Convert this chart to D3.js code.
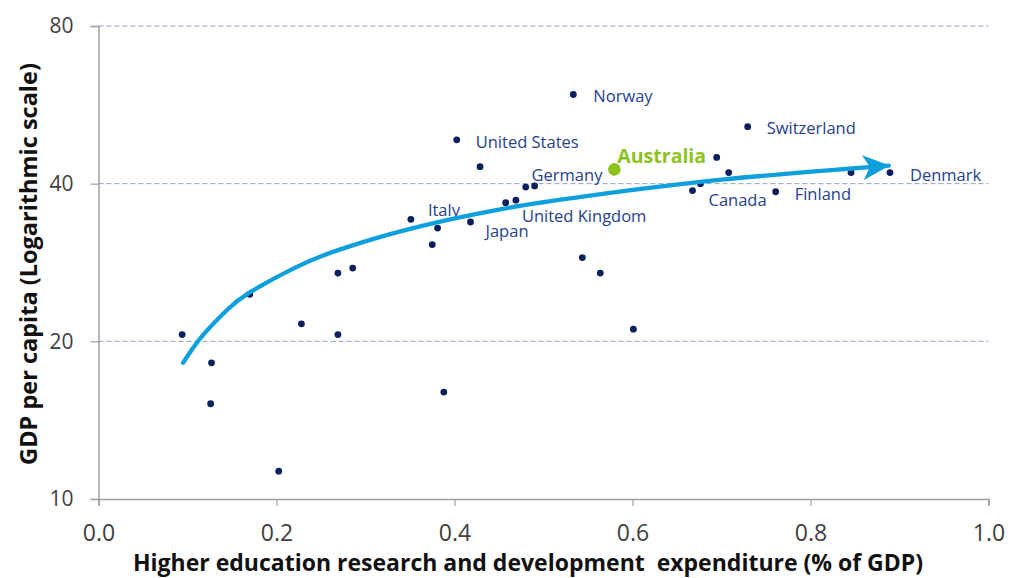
<!DOCTYPE html>
<html>
<head>
<meta charset="utf-8">
<script src="https://cdn.jsdelivr.net/npm/d3@7/dist/d3.min.js"></script>
<style>
  html, body { margin: 0; padding: 0; background: #fff; }
  svg { display: block; }
  text { font-family: "Open Sans", sans-serif; }
</style>
</head>
<body>
<script>
// ---------- data ----------
const spend = [0.094, 0.127, 0.126, 0.170, 0.2025, 0.228, 0.269, 0.269, 0.2856, 0.351, 0.381, 0.375, 0.388,
  0.4025, 0.418, 0.4287, 0.4575, 0.469, 0.480, 0.490, 0.5335, 0.5436, 0.5638, 0.5796, 0.601,
  0.6674, 0.6764, 0.6946, 0.7081, 0.7294, 0.7609, 0.8455, 0.8893];
const gdp = [20.6, 18.2, 15.2, 24.6, 11.3, 21.6, 27.0, 20.6, 27.6, 34.2, 32.9, 30.6, 16.0,
  48.5, 33.8, 43.1, 36.8, 37.2, 39.4, 39.6, 59.2, 28.9, 27.0, 42.6, 21.1,
  38.8, 40.0, 44.9, 42.0, 51.4, 38.6, 42.0, 42.0];
const country = ["", "", "", "", "", "", "", "", "", "Italy", "", "", "",
  "United States", "Japan", "", "", "United Kingdom", "", "Germany", "Norway", "", "", "Australia", "",
  "Canada", "", "", "", "Switzerland", "Finland", "", "Denmark"];
const highlight = "Australia";

// trend line
const trendX = [0.095, 0.105, 0.12, 0.145, 0.17, 0.22, 0.27, 0.35, 0.45, 0.55, 0.70, 0.888];
const trendY = [18.2, 19.3, 20.8, 23.0, 24.8, 27.6, 29.9, 32.8, 35.7, 37.9, 40.7, 43.3];

const xTicks = [0.0, 0.2, 0.4, 0.6, 0.8, 1.0];
const yTicks = [10, 20, 40, 80];
const xTitle = "Higher education research and development  expenditure (% of GDP)";
const yTitle = "GDP per capita (Logarithmic scale)";

// ---------- layout ----------
const W = 1015, H = 578;
const mLeft = 98.5, mRight = 988.5, mTop = 26, mBottom = 499;
const labelOffset = {
  "Norway": [20, 8], "United States": [19, 8], "Germany": [-3, -5],
  "United Kingdom": [6, 21.5], "Japan": [15, 15], "Italy": [17, -3],
  "Canada": [16, 15.5], "Finland": [19, 8], "Switzerland": [19, 7],
  "Denmark": [20, 8], "Australia": [3, -6]
};

const svg = d3.select("body").append("svg").attr("width", W).attr("height", H);

const x = d3.scaleLinear().domain([0, 1]).range([mLeft, mRight]);
const y = d3.scaleLog().domain([10, 80]).range([mBottom, mTop]);

// gridlines
svg.append("g").selectAll("line").data(yTicks.filter(d => d > 10)).join("line")
  .attr("x1", mLeft).attr("x2", mRight)
  .attr("y1", d => y(d)).attr("y2", d => y(d))
  .attr("stroke", "#8A9ECB").attr("stroke-width", 1).attr("stroke-dasharray", "5,3");

// axes
const gx = svg.append("g").attr("transform", `translate(0,${mBottom})`)
  .call(d3.axisBottom(x).tickValues(xTicks).tickFormat(d3.format(".1f")).tickSize(7).tickPadding(19));
const gy = svg.append("g").attr("transform", `translate(${mLeft},0)`)
  .call(d3.axisLeft(y).tickValues(yTicks).tickFormat(d3.format("d")).tickSize(8).tickPadding(17));
[gx, gy].forEach(g => {
  g.select(".domain").attr("stroke", "#A0A0A0").attr("stroke-width", 1.5);
  g.selectAll(".tick line").attr("stroke", "#A0A0A0").attr("stroke-width", 1.2);
  g.selectAll(".tick text").attr("fill", "#404040")
    .style("font-family", "'Open Sans', sans-serif");
});
gx.selectAll(".tick text").style("font-size", "23px");
gy.selectAll(".tick text").style("font-size", "21px");

// points
const pts = spend.map((v, i) => ({ x: v, y: gdp[i], name: country[i] }));
svg.append("g").selectAll("circle").data(pts).join("circle")
  .attr("cx", d => x(d.x)).attr("cy", d => y(d.y))
  .attr("r", d => d.name === highlight ? 6.3 : 3.4)
  .attr("fill", d => d.name === highlight ? "#8DC21F" : "#0B1F5E");

// labels
svg.append("g").selectAll("text").data(pts.filter(d => d.name)).join("text")
  .attr("x", d => x(d.x) + labelOffset[d.name][0])
  .attr("y", d => y(d.y) + labelOffset[d.name][1])
  .attr("fill", d => d.name === highlight ? "#8DC21F" : "#27418A")
  .style("font-size", d => d.name === highlight ? "19.5px" : "16.5px")
  .style("font-weight", d => d.name === highlight ? "bold" : "normal")
  .text(d => d.name);

// trend arrow
const defs = svg.append("defs");
defs.append("marker").attr("id", "arrow")
  .attr("viewBox", "0 0 27 26").attr("refX", 26).attr("refY", 13)
  .attr("markerWidth", 27).attr("markerHeight", 26)
  .attr("markerUnits", "userSpaceOnUse").attr("orient", "auto")
  .append("path").attr("d", "M0,0.5 L27,13 L0,25.5 L7,13 Z").attr("fill", "#0EA0DC");

const line = d3.line().x(d => x(d[0])).y(d => y(d[1])).curve(d3.curveNatural);
svg.append("path").datum(trendX.map((v, i) => [v, trendY[i]]))
  .attr("d", line).attr("fill", "none").attr("stroke", "#0EA0DC")
  .attr("stroke-width", 4.3).attr("stroke-linecap", "round")
  .attr("marker-end", "url(#arrow)");

// axis titles
svg.append("text").attr("x", 528).attr("y", 571)
  .attr("text-anchor", "middle").style("font-size", "23px").style("font-weight", "bold")
  .style("white-space", "pre").attr("fill", "#111").text(xTitle);
svg.append("text").attr("transform", `translate(37,264) rotate(-90)`)
  .attr("text-anchor", "middle").style("font-size", "23.5px").style("font-weight", "bold")
  .attr("fill", "#111").text(yTitle);
</script>
</body>
</html>
